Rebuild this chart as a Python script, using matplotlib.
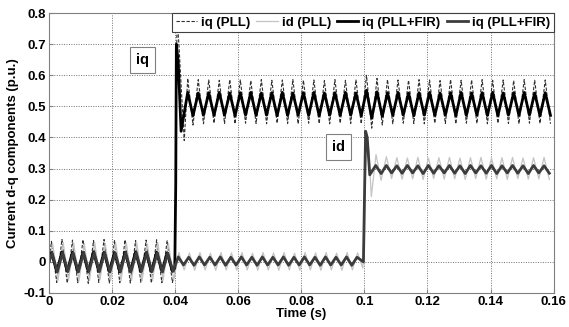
import matplotlib
matplotlib.use("Agg")
import matplotlib.pyplot as plt
import numpy as np

plt.rcParams['font.family'] = ['Liberation Sans', 'DejaVu Sans']
plt.rcParams['font.weight'] = 'bold'

# half period of the 300 Hz ripple (s)
h = 1.0 / 600

# ---- iq, before the step (0 - 0.04 s), peaks/troughs
iq_pll_a = [0.066, -0.066, 0.072, -0.068, 0.070, -0.067, 0.071, -0.069, 0.069, -0.066, 0.072, -0.068,
            0.070, -0.067, 0.071, -0.068, 0.069, -0.066, 0.070, -0.068, 0.071, -0.067, 0.068, -0.066]
iq_fir_a = [0.030, -0.031, 0.032, -0.030, 0.031, -0.032, 0.030, -0.031, 0.032, -0.030, 0.031, -0.031,
            0.030, -0.032, 0.031, -0.030, 0.032, -0.031, 0.030, -0.031, 0.031, -0.030, 0.029, -0.030]

# ---- iq step transient at 0.04 s
iq_pll_step_t = [0.0399, 0.0402, 0.0406, 0.0412, 0.0420, 0.0429]
iq_pll_step_v = [-0.04, 0.30, 0.79, 0.70, 0.55, 0.39]
iq_fir_step_t = [0.0399, 0.0402, 0.0404, 0.0410, 0.0419]
iq_fir_step_v = [-0.02, 0.25, 0.70, 0.64, 0.42]

# ---- iq after the step (0.044 - 0.16 s)
iq_pll_b = [0.590, 0.440, 0.586, 0.444, 0.585, 0.446, 0.584, 0.445, 0.586, 0.444,
            0.585, 0.446, 0.583, 0.445, 0.586, 0.444, 0.584, 0.446, 0.585, 0.445,
            0.586, 0.444, 0.584, 0.446, 0.585, 0.445, 0.583, 0.444, 0.586, 0.446,
            0.584, 0.445, 0.585, 0.444, 0.600, 0.430, 0.590, 0.440, 0.586, 0.444,
            0.585, 0.446, 0.584, 0.445, 0.586, 0.444, 0.585, 0.446, 0.583, 0.445,
            0.586, 0.444, 0.584, 0.446, 0.585, 0.445, 0.586, 0.444, 0.584, 0.446,
            0.585, 0.445, 0.583, 0.444, 0.586, 0.446, 0.584, 0.445, 0.585, 0.444]
iq_fir_b = [0.545, 0.470, 0.543, 0.472, 0.544, 0.471, 0.545, 0.472, 0.543, 0.470,
            0.544, 0.472, 0.545, 0.471, 0.543, 0.472, 0.544, 0.470, 0.545, 0.471,
            0.543, 0.472, 0.544, 0.471, 0.545, 0.470, 0.543, 0.472, 0.544, 0.471,
            0.545, 0.472, 0.543, 0.470, 0.552, 0.462, 0.547, 0.468, 0.544, 0.471,
            0.545, 0.472, 0.543, 0.470, 0.544, 0.472, 0.545, 0.471, 0.543, 0.472,
            0.544, 0.470, 0.545, 0.471, 0.543, 0.472, 0.544, 0.471, 0.545, 0.470,
            0.543, 0.472, 0.544, 0.471, 0.545, 0.472, 0.543, 0.470, 0.544, 0.471]

# ---- id, before its step (0 - 0.1 s)
id_pll_a = [0.058, -0.060, 0.062, -0.059, 0.060, -0.061, 0.059, -0.060, 0.061, -0.058, 0.060, -0.061,
            0.059, -0.060, 0.061, -0.059, 0.060, -0.061, 0.058, -0.060, 0.061, -0.059, 0.060, -0.058,
            0.030, -0.026, 0.029, -0.027, 0.030, -0.026, 0.028, -0.027, 0.030, -0.026, 0.029, -0.027,
            0.030, -0.026, 0.028, -0.027, 0.030, -0.026, 0.029, -0.027, 0.030, -0.026, 0.028, -0.027,
            0.030, -0.026, 0.029, -0.027, 0.030, -0.026, 0.028, -0.027, 0.030, -0.026, 0.029]
id_fir_a = [0.028, -0.032, 0.030, -0.031, 0.029, -0.032, 0.030, -0.030, 0.029, -0.031, 0.030, -0.032,
            0.028, -0.031, 0.030, -0.032, 0.029, -0.030, 0.030, -0.031, 0.029, -0.032, 0.028, -0.030,
            0.016, -0.010, 0.015, -0.011, 0.016, -0.010, 0.015, -0.010, 0.016, -0.011, 0.015, -0.010,
            0.016, -0.010, 0.015, -0.011, 0.016, -0.010, 0.015, -0.010, 0.016, -0.011, 0.015, -0.010,
            0.016, -0.010, 0.015, -0.011, 0.016, -0.010, 0.015, -0.010, 0.016, -0.011, 0.015]

# ---- id step transient at 0.1 s
id_pll_step_t = [0.0995, 0.1000, 0.1004, 0.1008, 0.1014, 0.1022, 0.1037]
id_pll_step_v = [-0.02, 0.05, 0.30, 0.41, 0.36, 0.21, 0.345]
id_fir_step_t = [0.0997, 0.1001, 0.1004, 0.1009, 0.1017, 0.1036]
id_fir_step_v = [0.00, 0.25, 0.42, 0.40, 0.28, 0.31]

# ---- id after the step (0.105 - 0.16 s)
id_pll_c = [0.262, 0.338, 0.268, 0.335, 0.266, 0.334, 0.267, 0.336, 0.265, 0.334, 0.268,
            0.335, 0.266, 0.336, 0.267, 0.334, 0.265, 0.335, 0.268, 0.336, 0.266, 0.334,
            0.267, 0.335, 0.265, 0.336, 0.268, 0.334, 0.266, 0.335, 0.267, 0.336, 0.265]
id_fir_c = [0.284, 0.310, 0.286, 0.309, 0.285, 0.310, 0.286, 0.309, 0.284, 0.310, 0.285,
            0.309, 0.286, 0.310, 0.285, 0.309, 0.284, 0.310, 0.286, 0.309, 0.285, 0.310,
            0.284, 0.309, 0.286, 0.310, 0.285, 0.309, 0.284, 0.310, 0.286, 0.309, 0.285]

x_ticks = [0, 0.02, 0.04, 0.06, 0.08, 0.1, 0.12, 0.14, 0.16]
x_tick_labels = ['0', '0.02', '0.04', '0.06', '0.08', '0.1', '0.12', '0.14', '0.16']
y_ticks = [-0.1, 0, 0.1, 0.2, 0.3, 0.4, 0.5, 0.6, 0.7, 0.8]
y_tick_labels = ['-0.1', '0', '0.1', '0.2', '0.3', '0.4', '0.5', '0.6', '0.7', '0.8']


def build(t0_a, vals_a, step_t, step_v, t0_b, vals_b):
    t = np.concatenate([[0.0], t0_a + h * np.arange(len(vals_a)), step_t,
                        t0_b + h * np.arange(len(vals_b))])
    v = np.concatenate([[0.0], vals_a, step_v, vals_b])
    return t, v


iq_pll_t, iq_pll_v = build(0.0008, iq_pll_a, iq_pll_step_t, iq_pll_step_v, 0.0440, iq_pll_b)
iq_fir_t, iq_fir_v = build(0.0008, iq_fir_a, iq_fir_step_t, iq_fir_step_v, 0.0440, iq_fir_b)
id_pll_t, id_pll_v = build(0.0012, id_pll_a, id_pll_step_t, id_pll_step_v, 0.1053, id_pll_c)
id_fir_t, id_fir_v = build(0.0010, id_fir_a, id_fir_step_t, id_fir_step_v, 0.1053, id_fir_c)

fig = plt.figure(figsize=(5.69, 3.27), dpi=100)
ax = fig.add_axes([0.086, 0.104, 0.887, 0.856])

ax.plot(iq_pll_t, iq_pll_v, color='#303030', lw=0.8, linestyle=(0, (3, 1.5)), label='iq (PLL)')
ax.plot(id_pll_t, id_pll_v, color='#c4c4c4', lw=0.9, label='id (PLL)')
ax.plot(iq_fir_t, iq_fir_v, color='black', lw=2.0, label='iq (PLL+FIR)')
ax.plot(id_fir_t, id_fir_v, color='#3c3c3c', lw=2.0, label='iq (PLL+FIR)')

ax.set_xlim(0, 0.16)
ax.set_ylim(-0.1, 0.8)
ax.set_xticks(x_ticks)
ax.set_xticklabels(x_tick_labels)
ax.set_yticks(y_ticks)
ax.set_yticklabels(y_tick_labels)
ax.tick_params(direction='in', length=3, labelsize=9.5, color='#808080', pad=2)
for lab in ax.get_xticklabels() + ax.get_yticklabels():
    lab.set_fontweight('bold')
for sp in ax.spines.values():
    sp.set_color('#808080')
ax.grid(True, linestyle=(0, (1, 1.5)), color='#707070', lw=0.7)

ax.set_xlabel('Time (s)', fontsize=9.5, fontweight='bold', labelpad=0)
ax.set_ylabel('Current d-q components (p.u.)', fontsize=9.5, fontweight='bold', labelpad=3)

ax.text(0.0296, 0.65, 'iq', fontsize=10.5, fontweight='bold', ha='center', va='center',
        bbox=dict(boxstyle='square,pad=0.4', fc='white', ec='#808080', lw=0.8))
ax.text(0.0917, 0.37, 'id', fontsize=10.5, fontweight='bold', ha='center', va='center',
        bbox=dict(boxstyle='square,pad=0.4', fc='white', ec='#808080', lw=0.8))

leg = ax.legend(loc='upper right', ncol=4, fontsize=9.5, frameon=True, fancybox=False,
                edgecolor='#404040', framealpha=1, borderaxespad=0, handlelength=1.6,
                handletextpad=0.3, columnspacing=0.5, borderpad=0.25)
leg.get_frame().set_linewidth(0.8)
for txt in leg.get_texts():
    txt.set_fontweight('bold')

fig.savefig('out.png', dpi=100)
